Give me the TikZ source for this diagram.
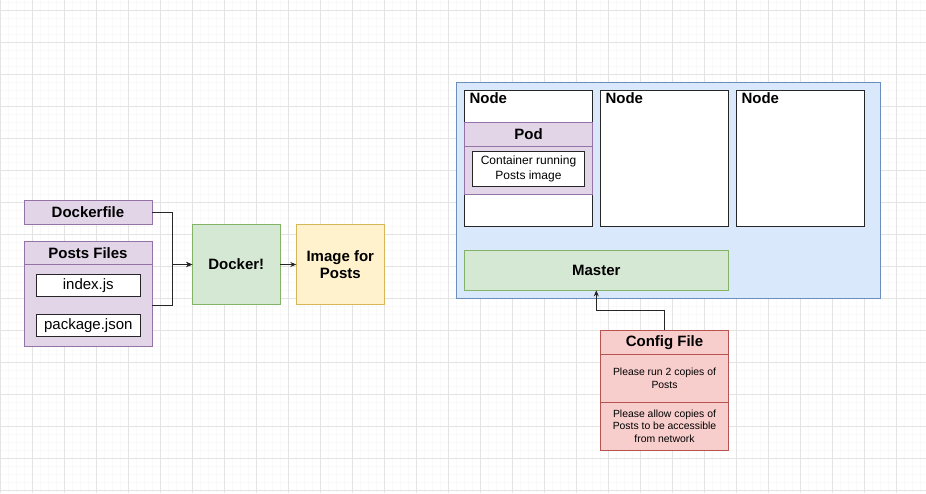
\documentclass[tikz,border=0pt]{standalone}
\usepackage{fontspec}
\setmainfont{Liberation Sans}
\usepackage{xcolor}
\usetikzlibrary{positioning,arrows.meta}

\definecolor{purpleFill}{HTML}{E1D5E7}
\definecolor{purpleLine}{HTML}{9673A6}
\definecolor{greenFill}{HTML}{D5E8D4}
\definecolor{greenLine}{HTML}{82B366}
\definecolor{yellowFill}{HTML}{FFF2CC}
\definecolor{yellowLine}{HTML}{D6B656}
\definecolor{blueFill}{HTML}{DAE8FC}
\definecolor{blueLine}{HTML}{6C8EBF}
\definecolor{redFill}{HTML}{F8CECC}
\definecolor{redLine}{HTML}{B85450}

\newcommand{\boldtext}{\fontsize{15}{17.3}\selectfont\bfseries}
\newcommand{\filetext}{\fontsize{15}{17.3}\selectfont}
\newcommand{\podtext}{\fontsize{12}{14.3}\selectfont}
\newcommand{\notetext}{\fontsize{10.4}{12.3}\selectfont}

\tikzset{
  box/.style={draw, line width=0.9pt, inner sep=0pt, outer sep=0pt, align=center},
  purplebox/.style={box, fill=purpleFill, draw=purpleLine},
  greenbox/.style={box, fill=greenFill, draw=greenLine},
  yellowbox/.style={box, fill=yellowFill, draw=yellowLine},
  bluebox/.style={box, fill=blueFill, draw=blueLine},
  redbox/.style={box, fill=redFill, draw=redLine},
  whitebox/.style={box, fill=white, draw=black!85},
  link/.style={draw=black!85, line width=0.9pt, -{Stealth[length=6pt,width=5pt]}},
  minorgrid/.style={draw=black!2.5, line width=0.8pt},
  majorgrid/.style={draw=black!11, line width=0.8pt}
}

\begin{document}
\begin{tikzpicture}[x=1pt,y=-1pt]
\useasboundingbox (0,0) rectangle (926,493);
\fill[white] (0,0) rectangle (926,493);

% background grid
\foreach \gx in {0,8,...,926} {
\draw[minorgrid] (\gx,0)--(\gx,493);
}
\foreach \gy in {2,10,...,493} {
\draw[minorgrid] (0,\gy)--(926,\gy);
}
\foreach \gx in {0,32,...,926} {
\draw[majorgrid] (\gx,0)--(\gx,493);
}
\foreach \gy in {10,42,...,493} {
\draw[majorgrid] (0,\gy)--(926,\gy);
}

% left side: build of the image
\node(Dockerfile) [purplebox, minimum width=128, minimum height=24, font=\boldtext] at (88,212.5) {Dockerfile};
\node(Posts)      [purplebox, minimum width=128, minimum height=105] at (88,293.5) {};
\node(PostsTitle) [purplebox, minimum width=128, minimum height=23.5, font=\boldtext, below=0pt of Posts.north] {Posts Files};
\node(IndexJs)    [whitebox, minimum width=104, minimum height=22.4, font=\filetext] at (88.3,285.5) {index.js};
\node(PackageJson)[whitebox, minimum width=104, minimum height=22.4, font=\filetext, below=17.6pt of IndexJs] {package.json};
\node(Docker)     [greenbox, minimum width=88, minimum height=80, font=\boldtext] at (236.3,264.5) {Docker!};
\node(Image)      [yellowbox, minimum width=88, minimum height=80, font=\boldtext, right=16pt of Docker] {Image for\\Posts};

\draw[link] (Dockerfile.east) -- ++(20.3,0) |- (Docker.west);
\draw[link] ([yshift=-11.8pt]Posts.east) -- ++(20.3,0) |- (Docker.west);
\draw[link] (Docker) -- (Image);

% right side: the cluster
\node(Cluster) [bluebox, minimum width=424, minimum height=216] at (668.3,190.2) {};
\node(Node1)   [whitebox, minimum width=128.4, minimum height=136] at (528.5,158.2) {};
\node(Node2)   [whitebox, minimum width=128, minimum height=136, right=7.6pt of Node1] {};
\node(Node3)   [whitebox, minimum width=128, minimum height=136, right=8pt of Node2] {};
\foreach \x in {1,2,3} {
\node(NodeLabel\x) [inner sep=0pt, font=\boldtext, below right=2pt and 5pt of Node\x.north west] {Node};
}
\node(Pod)       [purplebox, minimum width=128.4, minimum height=72] at (528.5,158.2) {};
\node(PodTitle)  [purplebox, minimum width=128.4, minimum height=24, font=\boldtext, below=0pt of Pod.north] {Pod};
\node(Container) [whitebox, minimum width=112, minimum height=34.4, font=\podtext] at (528.5,168.9) {Container running\\Posts image};
\node(Master)    [greenbox, minimum width=264, minimum height=40, font=\boldtext] at (596.3,270.3) {Master};

% config file
\node(Config)      [redbox, minimum width=128, minimum height=120] at (664.5,390.2) {};
\node(ConfigTitle) [redbox, minimum width=128, minimum height=24, font=\boldtext, below=0pt of Config.north] {Config File};
\node(CopiesNote)  [redbox, minimum width=128, minimum height=48, font=\notetext, below=0pt of ConfigTitle] {Please run 2 copies of\\Posts};
\node(NetworkNote) [redbox, minimum width=128, minimum height=48, font=\notetext, below=0pt of CopiesNote] {Please allow copies of\\Posts to be accessible\\from network};

\draw[link] (Config.north) -- ++(0,-19.6) -| (Master.south);
\end{tikzpicture}
\end{document}
